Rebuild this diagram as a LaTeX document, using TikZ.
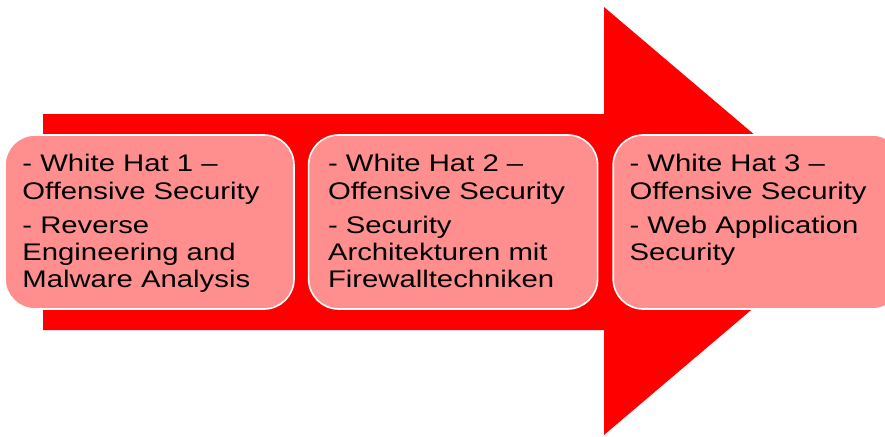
\documentclass[tikz,border=0pt]{standalone}
\usepackage{fontspec}
\newfontfamily\boxfont[FakeStretch=1.22]{Liberation Sans}
\usetikzlibrary{positioning}
\definecolor{arrowred}{HTML}{FF0000}
\definecolor{pinkfill}{HTML}{FF8F8F}
\definecolor{ink}{HTML}{000000}

\begin{document}
\begin{tikzpicture}[x=1pt,y=-1pt,
    stage/.style={draw=white,line width=1.6pt,fill=pinkfill,rounded corners=30pt,
      minimum width=289pt,minimum height=174pt,inner sep=0pt},
    label/.style={text=ink,align=left,inner sep=0pt,anchor=north west,
      font=\boxfont\fontsize{24}{27.3}\selectfont}]
  \clip (0,0) rectangle (885,436);

  % big arrow behind the boxes
  \fill[arrowred] (43,114)--(604,114)--(604,7)--(856,221)
    --(604,435)--(604,330)--(43,330)--cycle;

  \node[stage] (b1) at (149.5,222) {};
  \node[stage,right=13pt of b1] (b2) {};
  \node[stage,right=14pt of b2] (b3) {};

  \node[label,below right=20pt and 18pt of b1.north west] (t1)
    {- White Hat 1 –\\Offensive Security\\[7pt]- Reverse\\Engineering and\\Malware Analysis};
  \node[label,below right=20pt and 20pt of b2.north west] (t2)
    {- White Hat 2 –\\Offensive Security\\[7pt]- Security\\Architekturen mit\\Firewalltechniken};
  \node[label,below right=20pt and 17pt of b3.north west] (t3)
    {- White Hat 3 –\\Offensive Security\\[7pt]- Web Application\\Security};
\end{tikzpicture}
\end{document}
